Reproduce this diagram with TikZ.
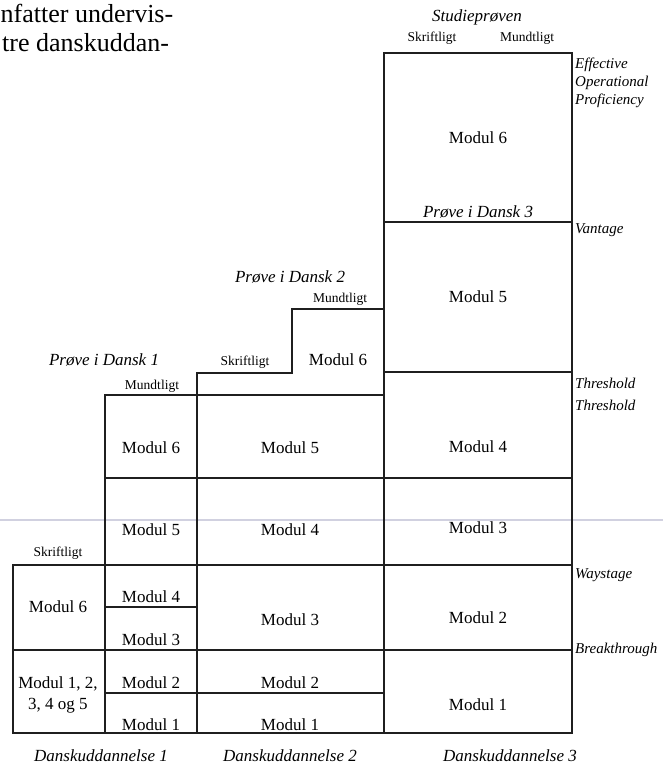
\documentclass[tikz,border=0pt]{standalone}
\usepackage{fontspec}
\setmainfont{Liberation Serif}
\begin{document}
\begin{tikzpicture}[x=1pt,y=-1pt,
  frame/.style={line width=2.6pt,draw=black!88,line join=miter},
  inner/.style={line width=2.2pt,draw=black!88},
  mod/.style={inner sep=0pt,font=\fontsize{17}{19}\selectfont},
  lab/.style={inner sep=0pt,font=\fontsize{13.5}{15}\selectfont},
  exam/.style={inner sep=0pt,font=\fontsize{17}{19}\selectfont\itshape},
  lvl/.style={inner sep=0pt,anchor=west,font=\fontsize{15}{17}\selectfont\itshape},
  body/.style={inner sep=0pt,anchor=base west,font=\fontsize{26}{30}\selectfont}]
\useasboundingbox (0,0) rectangle (663,765);
\fill[white] (0,0) rectangle (663,765);
% faint scan line
\draw[line width=1.2pt,draw=blue!20!gray!30] (0,520) -- (663,520);
% body text
\node[body] (t1) at (0.5,23) {nfatter undervis-};
\node[body] (t2) at (2,52) {tre danskuddan-};
% inner lines
\draw[inner] (105,565) -- (105,733);
\draw[inner] (197,395) -- (197,733);
\draw[inner] (384,309) -- (384,733);
\draw[inner] (105,395) -- (384,395);
\draw[inner] (105,478) -- (572,478);
\draw[inner] (13,565) -- (572,565);
\draw[inner] (105,607) -- (197,607);
\draw[inner] (13,650) -- (572,650);
\draw[inner] (105,693) -- (384,693);
\draw[inner] (384,222) -- (572,222);
\draw[inner] (384,372) -- (572,372);
% outline
\draw[frame] (13,733) -- (13,565) -- (105,565) -- (105,395) -- (197,395) -- (197,373)
  -- (292,373) -- (292,309) -- (384,309) -- (384,53) -- (572,53) -- (572,733) -- cycle;
% column 1 left
\node[lab] (s1) at (58,553) {Skriftligt};
\node[mod] (a6) at (58,607) {Modul 6};
\node[mod,align=center] (a1) at (58,695) {Modul 1, 2,\\[2pt]3, 4 og 5};
% column 1 right
\node[exam] (p1) at (104,360) {Prøve i Dansk 1};
\node[lab] (m1) at (152,386) {Mundtligt};
\node[mod] (b6) at (151,448) {Modul 6};
\node[mod] (b5) at (151,530) {Modul 5};
\node[mod] (b4) at (151,597) {Modul 4};
\node[mod] (b3) at (151,640) {Modul 3};
\node[mod] (b2) at (151,683) {Modul 2};
\node[mod] (b1) at (151,725) {Modul 1};
% column 2
\node[exam] (p2) at (290,277) {Prøve i Dansk 2};
\node[lab] (m2) at (340,299) {Mundtligt};
\node[lab] (s2) at (245,362) {Skriftligt};
\node[mod] (c6) at (338,360) {Modul 6};
\node[mod] (c5) at (290,448) {Modul 5};
\node[mod] (c4) at (290,530) {Modul 4};
\node[mod] (c3) at (290,620) {Modul 3};
\node[mod] (c2) at (290,683) {Modul 2};
\node[mod] (c1) at (290,725) {Modul 1};
% column 3
\node[exam] (sp) at (477,17) {Studieprøven};
\node[lab] (s3) at (432,38) {Skriftligt};
\node[lab] (m3) at (527,38) {Mundtligt};
\node[mod] (d6) at (478,138) {Modul 6};
\node[exam] (p3) at (478,212) {Prøve i Dansk 3};
\node[mod] (d5) at (478,297) {Modul 5};
\node[mod] (d4) at (478,447) {Modul 4};
\node[mod] (d3) at (478,528) {Modul 3};
\node[mod] (d2) at (478,618) {Modul 2};
\node[mod] (d1) at (478,705) {Modul 1};
% levels
\node[lvl] (l1) at (575,65) {Effective};
\node[lvl] (l2) at (575,83) {Operational};
\node[lvl] (l3) at (575,101) {Proficiency};
\node[lvl] (l4) at (575,230) {Vantage};
\node[lvl] (l5) at (575,383) {Threshold};
\node[lvl] (l6) at (575,405) {Threshold};
\node[lvl] (l7) at (575,575) {Waystage};
\node[lvl] (l8) at (575,650) {Breakthrough};
% bottom
\node[exam] (u1) at (101,756) {Danskuddannelse 1};
\node[exam] (u2) at (290,756) {Danskuddannelse 2};
\node[exam] (u3) at (510,756) {Danskuddannelse 3};
\end{tikzpicture}
\end{document}
